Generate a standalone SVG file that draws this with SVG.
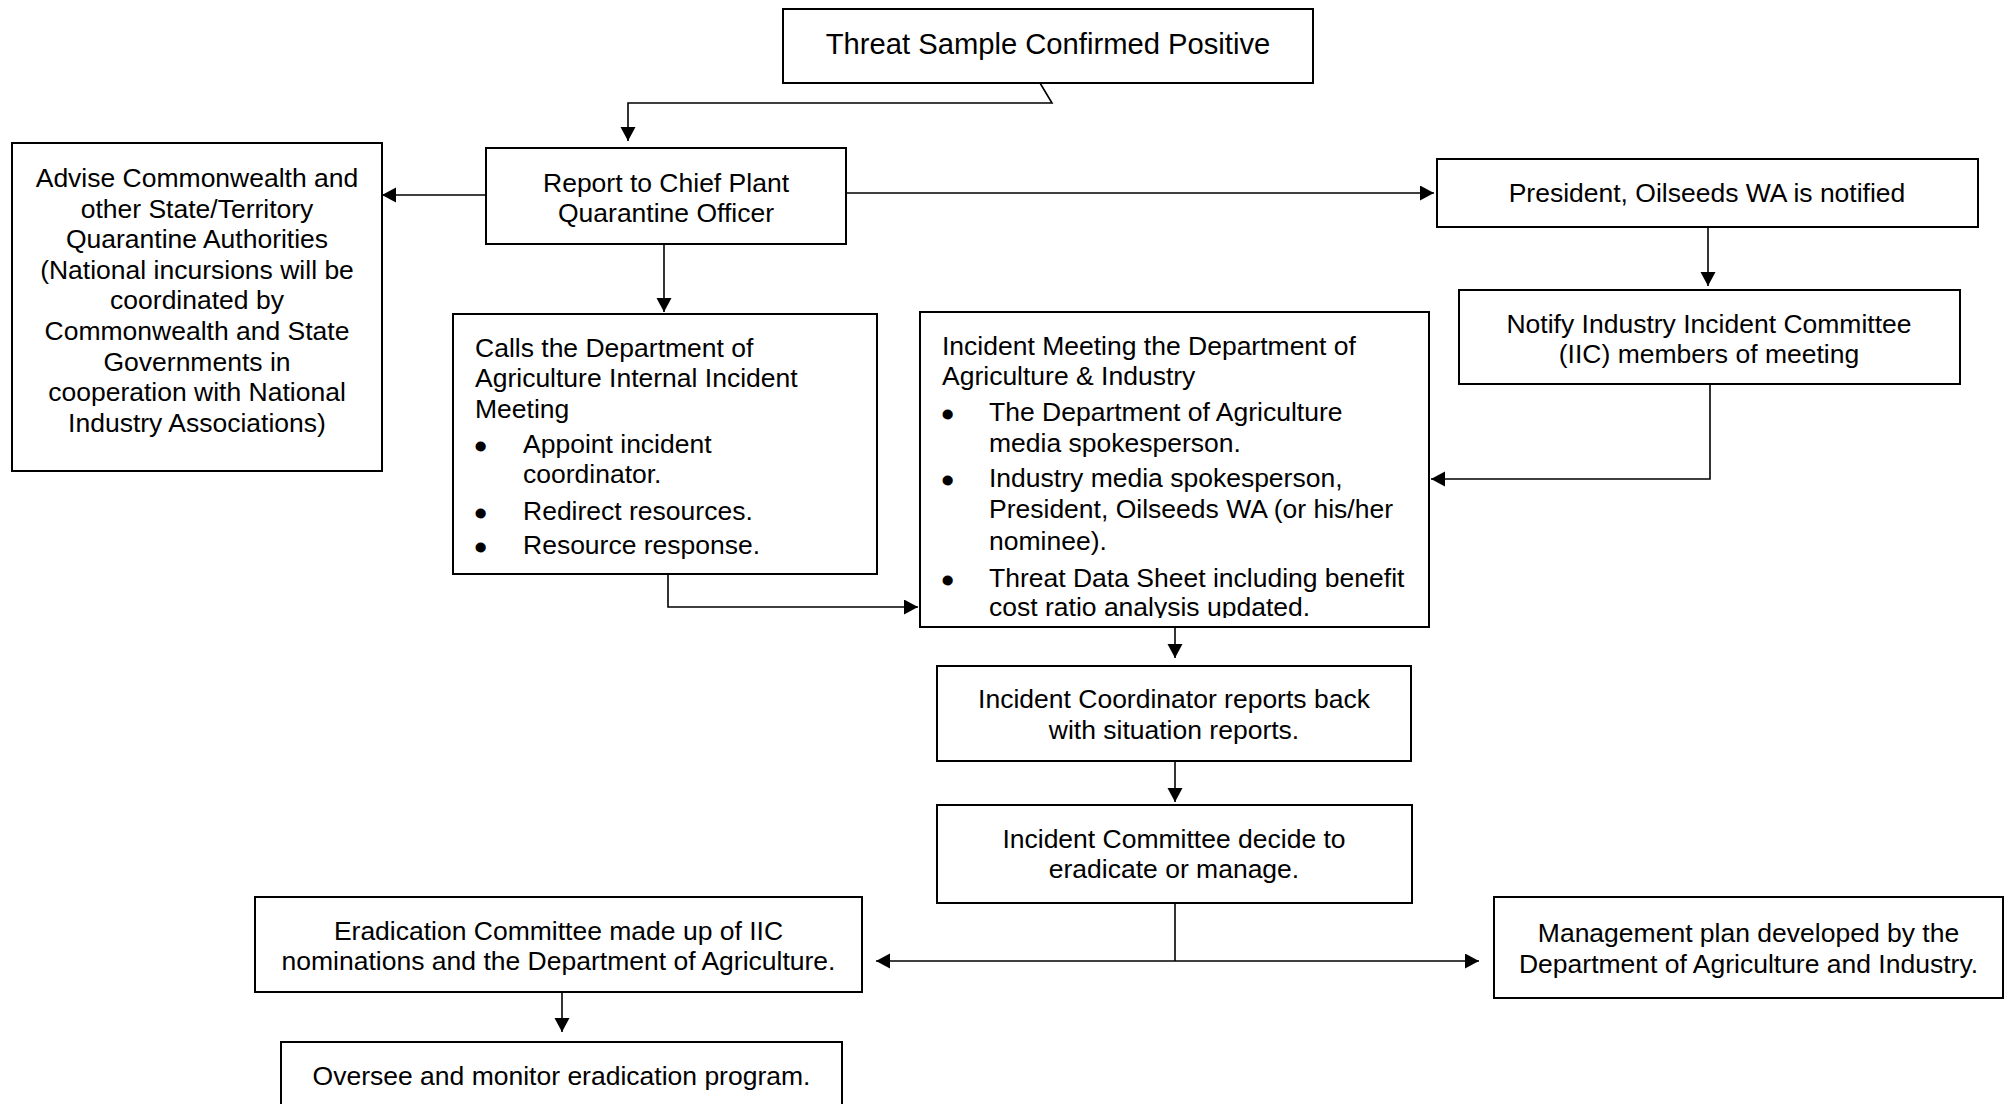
<svg xmlns="http://www.w3.org/2000/svg" width="2011" height="1104" viewBox="0 0 2011 1104">
<style>
.box{fill:#fff;stroke:#000;stroke-width:2}
.t{font-family:"Liberation Sans",Arial,sans-serif;font-size:26.5px;fill:#000}
.b{stroke:#000;stroke-width:3;stroke-linejoin:round}
.c{text-anchor:middle}
.conn{fill:none;stroke:#000;stroke-width:1.6}
</style>
<defs>
<marker id="ah" markerUnits="userSpaceOnUse" markerWidth="16" markerHeight="16" refX="14" refY="7.5" orient="auto">
<path d="M0,0 L14,7.5 L0,15 z" fill="#000"/>
</marker>
<clipPath id="imclip"><rect x="920" y="312" width="509" height="306"/></clipPath>
</defs>
<rect width="2011" height="1104" fill="#fff"/>

<g id="connectors">
<path class="conn" d="M1040,83 L1052,103 L628,103 L628,141" marker-end="url(#ah)"/>
<path class="conn" d="M486,195 L382,195" marker-end="url(#ah)"/>
<path class="conn" d="M846,193 L1434,193" marker-end="url(#ah)"/>
<path class="conn" d="M664,244 L664,312" marker-end="url(#ah)"/>
<path class="conn" d="M668,574 L668,607 L918,607" marker-end="url(#ah)"/>
<path class="conn" d="M1708,227 L1708,286" marker-end="url(#ah)"/>
<path class="conn" d="M1710,384 L1710,479 L1431,479" marker-end="url(#ah)"/>
<path class="conn" d="M1175,618 L1175,658" marker-end="url(#ah)"/>
<path class="conn" d="M1175,761 L1175,802" marker-end="url(#ah)"/>
<path class="conn" d="M1175,903 L1175,961"/>
<path class="conn" d="M1175,961 L876,961" marker-end="url(#ah)"/>
<path class="conn" d="M1175,961 L1479,961" marker-end="url(#ah)"/>
<path class="conn" d="M562,992 L562,1032" marker-end="url(#ah)"/>
</g>

<g id="threat">
<rect class="box" x="783" y="9" width="530" height="74"/>
<text class="t c" x="1048" y="54" style="font-size:29.2px">Threat Sample Confirmed Positive</text>
</g>

<g id="report">
<rect class="box" x="486" y="148" width="360" height="96"/>
<text class="t c" x="666" y="192">Report to Chief Plant</text>
<text class="t c" x="666" y="222">Quarantine Officer</text>
</g>

<g id="advise">
<rect class="box" x="12" y="143" width="370" height="328"/>
<text class="t c" x="197" y="187">Advise Commonwealth and</text>
<text class="t c" x="197" y="217.6">other State/Territory</text>
<text class="t c" x="197" y="248.2">Quarantine Authorities</text>
<text class="t c" x="197" y="278.8">(National incursions will be</text>
<text class="t c" x="197" y="309.4">coordinated by</text>
<text class="t c" x="197" y="340">Commonwealth and State</text>
<text class="t c" x="197" y="370.6">Governments in</text>
<text class="t c" x="197" y="401.2">cooperation with National</text>
<text class="t c" x="197" y="431.8">Industry Associations)</text>
</g>

<g id="president">
<rect class="box" x="1437" y="159" width="541" height="68"/>
<text class="t c" x="1707" y="202">President, Oilseeds WA is notified</text>
</g>

<g id="notify">
<rect class="box" x="1459" y="290" width="501" height="94"/>
<text class="t c" x="1709" y="333">Notify Industry Incident Committee</text>
<text class="t c" x="1709" y="363">(IIC) members of meeting</text>
</g>

<g id="calls">
<rect class="box" x="453" y="314" width="424" height="260"/>
<text class="t" x="475" y="357">Calls the Department of</text>
<text class="t" x="475" y="387">Agriculture Internal Incident</text>
<text class="t" x="475" y="418">Meeting</text>
<text class="t b" x="476" y="455">•</text>
<text class="t" x="523" y="453">Appoint incident</text>
<text class="t" x="523" y="483">coordinator.</text>
<text class="t b" x="476" y="522">•</text>
<text class="t" x="523" y="520">Redirect resources.</text>
<text class="t b" x="476" y="556">•</text>
<text class="t" x="523" y="554">Resource response.</text>
</g>

<g id="incident-meeting">
<rect class="box" x="920" y="312" width="509" height="315"/>
<g clip-path="url(#imclip)">
<text class="t" x="942" y="355">Incident Meeting the Department of</text>
<text class="t" x="942" y="385">Agriculture &amp; Industry</text>
<text class="t b" x="943" y="422.5">•</text>
<text class="t" x="989" y="420.5">The Department of Agriculture</text>
<text class="t" x="989" y="451.5">media spokesperson.</text>
<text class="t b" x="943" y="488.5">•</text>
<text class="t" x="989" y="486.5">Industry media spokesperson,</text>
<text class="t" x="989" y="517.5">President, Oilseeds WA (or his/her</text>
<text class="t" x="989" y="550">nominee).</text>
<text class="t b" x="943" y="588.5">•</text>
<text class="t" x="989" y="586.5">Threat Data Sheet including benefit</text>
<text class="t" x="989" y="615.5">cost ratio analysis updated.</text>
</g>
</g>

<g id="coordinator">
<rect class="box" x="937" y="666" width="474" height="95"/>
<text class="t c" x="1174" y="708">Incident Coordinator reports back</text>
<text class="t c" x="1174" y="739">with situation reports.</text>
</g>

<g id="decide">
<rect class="box" x="937" y="805" width="475" height="98"/>
<text class="t c" x="1174" y="848">Incident Committee decide to</text>
<text class="t c" x="1174" y="878">eradicate or manage.</text>
</g>

<g id="eradication">
<rect class="box" x="255" y="897" width="607" height="95"/>
<text class="t c" x="558.5" y="939.5">Eradication Committee made up of IIC</text>
<text class="t c" x="558.5" y="970">nominations and the Department of Agriculture.</text>
</g>

<g id="management">
<rect class="box" x="1494" y="897" width="509" height="101"/>
<text class="t c" x="1748.5" y="942">Management plan developed by the</text>
<text class="t c" x="1748.5" y="972.5">Department of Agriculture and Industry.</text>
</g>

<g id="oversee">
<rect class="box" x="281" y="1042" width="561" height="80"/>
<text class="t c" x="561.5" y="1085">Oversee and monitor eradication program.</text>
</g>
</svg>
